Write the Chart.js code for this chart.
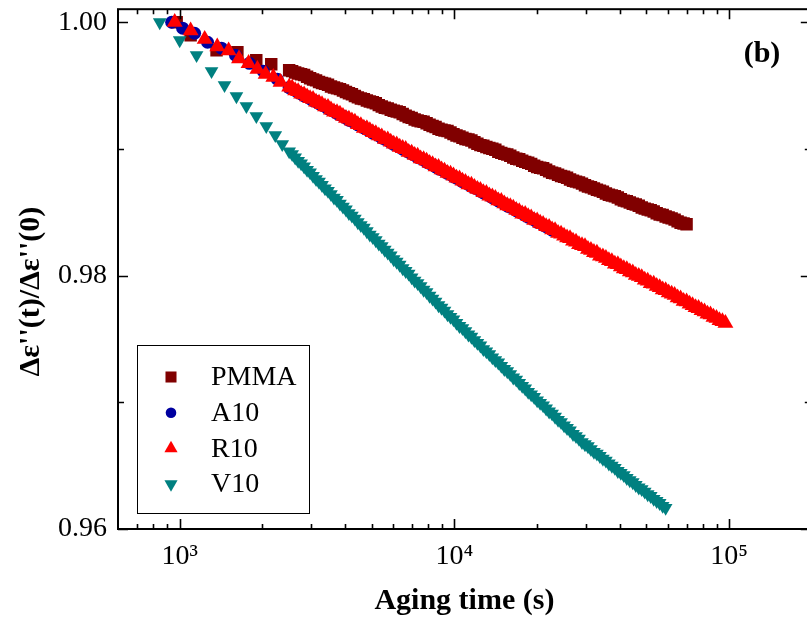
<!DOCTYPE html>
<html><head><meta charset="utf-8">
<script src="https://cdn.jsdelivr.net/npm/chart.js@4.4.1/dist/chart.umd.min.js"></script>
<style>
html,body{margin:0;padding:0;background:#fff;overflow:hidden;}
#wrap{position:relative;width:820px;height:625px;}
</style></head><body>
<div id="wrap"><canvas id="c" width="820" height="625" style="width:820px;height:625px"></canvas></div>
<script>
// ---------- data ----------
const seriesNames = ['PMMA', 'A10', 'R10', 'V10'];

// aging times (s) of the dense part of every curve, shared by the four samples
const gridTime = [2503, 2566, 2632, 2699, 2767, 2837, 2909, 2983, 3058, 3136, 3215, 3296, 3380, 3466,
  3554, 3644, 3737, 3832, 3929, 4029, 4130, 4235, 4342, 4452, 4565, 4681, 4800, 4922, 5046, 5174,
  5305, 5439, 5578, 5719, 5864, 6013, 6165, 6321, 6482, 6646, 6815, 6988, 7165, 7347, 7533, 7724,
  7920, 8121, 8327, 8538, 8754, 8976, 9204, 9437, 9677, 9922, 10174, 10432, 10696, 10967, 11246,
  11531, 11823, 12123, 12430, 12745, 13069, 13400, 13740, 14088, 14446, 14812, 15188, 15573, 15968,
  16373, 16788, 17213, 17650, 18098, 18557, 19027, 19510, 20004, 20512, 21032, 21566, 22113, 22673,
  23248, 23838, 24442, 25062, 25697, 26349, 27017, 27703, 28405, 29126, 29864, 30622, 31398, 32194,
  33010, 33848, 34706, 35587, 36489, 37414, 38362, 39336, 40333, 41356, 42404, 43480, 44582, 45714,
  46873, 48061, 49279, 50530, 51811, 53125, 54471, 55854, 57270, 58723, 60211, 61739, 63304, 64910,
  66555, 68244, 69974, 71749, 73567, 75434, 77346, 79309, 81319, 83382, 85495, 87665, 89887, 92168,
  94504, 96902];

const pmmaEarlyTime = [975, 1096, 1362, 1622, 1900, 2154];
const pmmaValue = [1.0000, 0.99897, 0.99779, 0.99763, 0.99700, 0.99669,
  0.99621, 0.99614, 0.99603, 0.99595, 0.99590, 0.99583, 0.99570, 0.99558, 0.99548, 0.99541,
  0.99529, 0.99520, 0.99515, 0.99507, 0.99493, 0.99485, 0.99478, 0.99472, 0.99462, 0.99449,
  0.99440, 0.99432, 0.99418, 0.99407, 0.99398, 0.99393, 0.99383, 0.99374, 0.99368, 0.99360,
  0.99346, 0.99335, 0.99325, 0.99320, 0.99310, 0.99301, 0.99296, 0.99289, 0.99276, 0.99263,
  0.99252, 0.99245, 0.99233, 0.99224, 0.99218, 0.99214, 0.99203, 0.99191, 0.99181, 0.99173,
  0.99160, 0.99151, 0.99145, 0.99141, 0.99130, 0.99117, 0.99106, 0.99099, 0.99088, 0.99079,
  0.99074, 0.99067, 0.99053, 0.99041, 0.99030, 0.99025, 0.99016, 0.99007, 0.99001, 0.98993,
  0.98978, 0.98969, 0.98961, 0.98956, 0.98946, 0.98932, 0.98922, 0.98918, 0.98907, 0.98898,
  0.98891, 0.98882, 0.98868, 0.98858, 0.98852, 0.98847, 0.98836, 0.98823, 0.98812, 0.98807,
  0.98797, 0.98787, 0.98781, 0.98773, 0.98758, 0.98749, 0.98742, 0.98736, 0.98726, 0.98713,
  0.98703, 0.98698, 0.98687, 0.98678, 0.98671, 0.98662, 0.98648, 0.98638, 0.98632, 0.98627,
  0.98616, 0.98603, 0.98592, 0.98587, 0.98577, 0.98567, 0.98561, 0.98552, 0.98537, 0.98529,
  0.98522, 0.98516, 0.98506, 0.98492, 0.98482, 0.98478, 0.98467, 0.98459, 0.98452, 0.98442,
  0.98428, 0.98418, 0.98412, 0.98405];

const a10EarlyTime = [935, 1025, 1133, 1263, 1420, 1596, 1793, 2015, 2265];
const a10Value = [1.0000, 0.99953, 0.99913, 0.99842, 0.99795, 0.99740, 0.99676, 0.99613, 0.99550,
  0.99484, 0.99474, 0.99463, 0.99447, 0.99435, 0.99419, 0.99411, 0.99397, 0.99382, 0.99374,
  0.99357, 0.99345, 0.99335, 0.99317, 0.99308, 0.99296, 0.99280, 0.99269, 0.99259, 0.99242,
  0.99227, 0.99220, 0.99206, 0.99190, 0.99182, 0.99166, 0.99154, 0.99143, 0.99125, 0.99116,
  0.99105, 0.99088, 0.99077, 0.99067, 0.99051, 0.99036, 0.99028, 0.99014, 0.98998, 0.98991,
  0.98974, 0.98962, 0.98951, 0.98934, 0.98925, 0.98913, 0.98896, 0.98885, 0.98876, 0.98859,
  0.98844, 0.98836, 0.98822, 0.98807, 0.98799, 0.98782, 0.98770, 0.98760, 0.98742, 0.98733,
  0.98721, 0.98704, 0.98694, 0.98684, 0.98667, 0.98652, 0.98645, 0.98631, 0.98615, 0.98607,
  0.98590, 0.98579, 0.98568, 0.98550, 0.98541, 0.98530, 0.98513, 0.98502, 0.98492, 0.98475,
  0.98461, 0.98453, 0.98439, 0.98423, 0.98416, 0.98399, 0.98387, 0.98376, 0.98358];

const r10EarlyTime = [959, 1096, 1233, 1370, 1507, 1644, 1781, 1918, 2055, 2192, 2329];
const r10Value = [1.0000, 0.99933, 0.99866, 0.99807, 0.99775, 0.99712, 0.99676, 0.99629, 0.99590, 0.99566, 0.99527,
  0.99490, 0.99481, 0.99461, 0.99454, 0.99434, 0.99429, 0.99413, 0.99398, 0.99393, 0.99371,
  0.99363, 0.99352, 0.99334, 0.99330, 0.99309, 0.99293, 0.99288, 0.99277, 0.99259, 0.99243,
  0.99237, 0.99222, 0.99214, 0.99193, 0.99185, 0.99165, 0.99161, 0.99146, 0.99130, 0.99123,
  0.99104, 0.99096, 0.99077, 0.99073, 0.99055, 0.99040, 0.99034, 0.99015, 0.99005, 0.98997,
  0.98975, 0.98968, 0.98950, 0.98944, 0.98923, 0.98917, 0.98906, 0.98887, 0.98877, 0.98860,
  0.98856, 0.98837, 0.98827, 0.98808, 0.98803, 0.98788, 0.98771, 0.98766, 0.98747, 0.98738,
  0.98719, 0.98715, 0.98697, 0.98682, 0.98675, 0.98657, 0.98651, 0.98630, 0.98622, 0.98611,
  0.98592, 0.98588, 0.98568, 0.98553, 0.98546, 0.98535, 0.98516, 0.98507, 0.98488, 0.98484,
  0.98467, 0.98457, 0.98438, 0.98434, 0.98415, 0.98405, 0.98388, 0.98382, 0.98363, 0.98356,
  0.98335, 0.98329, 0.98314, 0.98299, 0.98293, 0.98274, 0.98266, 0.98246, 0.98239, 0.98230,
  0.98209, 0.98201, 0.98184, 0.98178, 0.98156, 0.98149, 0.98138, 0.98120, 0.98112, 0.98093,
  0.98089, 0.98070, 0.98056, 0.98049, 0.98031, 0.98024, 0.98004, 0.97996, 0.97985, 0.97966,
  0.97958, 0.97939, 0.97935, 0.97917, 0.97907, 0.97889, 0.97883, 0.97865, 0.97855, 0.97845,
  0.97826, 0.97818, 0.97799, 0.97795, 0.97776, 0.97765, 0.97749, 0.97742, 0.97725, 0.97716,
  0.97697, 0.97692, 0.97673, 0.97664, 0.97647, 0.97639, 0.97624];

const v10EarlyTime = [846, 1000, 1152, 1306, 1456, 1609, 1749, 1901, 2066, 2228, 2362];
const v10Value = [1.0000, 0.99858, 0.99740, 0.99614, 0.99503, 0.99416, 0.99338, 0.99259, 0.99180, 0.99109, 0.99038,
  0.98981, 0.98959, 0.98932, 0.98906, 0.98886, 0.98861, 0.98834, 0.98815, 0.98787, 0.98761,
  0.98741, 0.98715, 0.98688, 0.98669, 0.98643, 0.98616, 0.98597, 0.98568, 0.98545, 0.98522,
  0.98493, 0.98473, 0.98450, 0.98421, 0.98399, 0.98378, 0.98350, 0.98323, 0.98304, 0.98279,
  0.98252, 0.98232, 0.98204, 0.98181, 0.98159, 0.98129, 0.98109, 0.98086, 0.98058, 0.98036,
  0.98015, 0.97986, 0.97960, 0.97941, 0.97916, 0.97888, 0.97869, 0.97841, 0.97818, 0.97795,
  0.97766, 0.97746, 0.97723, 0.97695, 0.97674, 0.97654, 0.97627, 0.97602, 0.97585, 0.97561,
  0.97535, 0.97517, 0.97491, 0.97469, 0.97448, 0.97420, 0.97402, 0.97380, 0.97354, 0.97333,
  0.97314, 0.97287, 0.97263, 0.97245, 0.97222, 0.97196, 0.97179, 0.97152, 0.97130, 0.97109,
  0.97082, 0.97063, 0.97042, 0.97015, 0.96995, 0.96976, 0.96951, 0.96927, 0.96910, 0.96886,
  0.96861, 0.96844, 0.96818, 0.96797, 0.96777, 0.96750, 0.96733, 0.96712, 0.96686, 0.96669,
  0.96653, 0.96630, 0.96609, 0.96595, 0.96576, 0.96554, 0.96540, 0.96517, 0.96499, 0.96482,
  0.96458, 0.96443, 0.96425, 0.96402, 0.96385, 0.96369, 0.96347, 0.96327, 0.96314, 0.96295,
  0.96274, 0.96260, 0.96238, 0.96221, 0.96205, 0.96182, 0.96166];

const xMajorTicks = [1000, 10000, 100000];
const xTickLabels = ['10\u00B3', '10\u2074', '10\u2075'];
const xMinorTicks = [700, 800, 900, 2000, 3000, 4000, 5000, 6000, 7000, 8000, 9000,
  20000, 30000, 40000, 50000, 60000, 70000, 80000, 90000];
const yMajorTicks = [0.96, 0.98, 1.00];
const yMinorTicks = [0.97, 0.99];
const xTitle = 'Aging time (s)';
const yTitle = 'Δε\'\'(t)/Δε\'\'(0)';
const panelLabel = '(b)';

// ---------- chart ----------
const SERIF = "'Liberation Serif','Times New Roman',serif";
// full time axis of a sample = its sparse early readings followed by the first n shared dense times
const series = (early, values) => {
  const t = early.concat(gridTime.slice(0, values.length - early.length));
  return t.map((x, i) => ({x: x, y: values[i]}));
};

const framePlugin = {
  id: 'frame',
  afterDraw(chart) {
    const {ctx, chartArea: a, scales: {x, y}} = chart;
    ctx.save();
    ctx.strokeStyle = '#000';
    ctx.lineWidth = 1.6;
    ctx.beginPath();
    const tx = (v, len) => {
      const p = Math.round(x.getPixelForValue(v)) + 0.5;
      ctx.moveTo(p, a.bottom); ctx.lineTo(p, a.bottom - len);
      ctx.moveTo(p, a.top); ctx.lineTo(p, a.top + len);
    };
    const ty = (v, len) => {
      const p = Math.round(y.getPixelForValue(v)) + 0.5;
      ctx.moveTo(a.left, p); ctx.lineTo(a.left + len, p);
      ctx.moveTo(a.right, p); ctx.lineTo(a.right - len, p);
    };
    xMajorTicks.forEach(v => tx(v, 10));
    xMinorTicks.forEach(v => tx(v, 5));
    yMajorTicks.forEach(v => ty(v, 10));
    yMinorTicks.forEach(v => ty(v, 6));
    ctx.stroke();
    ctx.lineWidth = 2;
    ctx.strokeRect(a.left, a.top, a.right - a.left, a.bottom - a.top);
    ctx.fillStyle = '#000';
    ctx.font = 'bold 30px ' + SERIF;
    ctx.textAlign = 'center';
    ctx.textBaseline = 'middle';
    const o = chart.options.plugins.frame;
    ctx.fillText(panelLabel, o.labelX, o.labelY);
    ctx.restore();
  }
};

const boxLegendPlugin = {
  id: 'boxLegend',
  afterDraw(chart) {
    const o = chart.options.plugins.boxLegend;
    const ctx = chart.ctx;
    ctx.save();
    ctx.fillStyle = '#fff';
    ctx.fillRect(o.left, o.top, o.width, o.height);
    ctx.strokeStyle = '#000';
    ctx.lineWidth = 1;
    ctx.strokeRect(o.left + 0.5, o.top + 0.5, o.width, o.height);
    chart.data.datasets.forEach((ds, i) => {
      const cy = o.firstY + i * o.rowGap;
      ctx.fillStyle = ds.backgroundColor;
      ctx.strokeStyle = ds.backgroundColor;
      const opts = {pointStyle: ds.pointStyle, rotation: ds.pointRotation || 0,
                    radius: o.markerRadius[i], borderWidth: 0};
      Chart.helpers.drawPoint(ctx, opts, o.markerX, cy);
      ctx.fillStyle = '#000';
      ctx.font = o.fontSize + 'px ' + SERIF;
      ctx.textAlign = 'left';
      ctx.textBaseline = 'middle';
      ctx.fillText(ds.label, o.textX, cy + 1);
    });
    ctx.restore();
  }
};

new Chart(document.getElementById('c'), {
  type: 'scatter',
  data: {
    datasets: [
      {label: seriesNames[0], data: series(pmmaEarlyTime, pmmaValue), pointStyle: 'rect',
       pointRadius: 8.8, backgroundColor: '#800000', borderWidth: 0, order: 4},
      {label: seriesNames[1], data: series(a10EarlyTime, a10Value), pointStyle: 'circle',
       pointRadius: 6.5, backgroundColor: '#0000a0', borderWidth: 0, order: 3},
      {label: seriesNames[2], data: series(r10EarlyTime, r10Value), pointStyle: 'triangle',
       pointRadius: 9.2, backgroundColor: '#ff0000', borderWidth: 0, order: 2},
      {label: seriesNames[3], data: series(v10EarlyTime, v10Value), pointStyle: 'triangle', pointRotation: 180,
       pointRadius: 7.9, backgroundColor: '#008080', borderWidth: 0, order: 1}
    ]
  },
  options: {
    responsive: false,
    animation: false,
    devicePixelRatio: 1,
    events: [],
    layout: {padding: {left: 0, top: 9, right: 6, bottom: 0}},
    elements: {point: {borderWidth: 0, hoverRadius: 0}},
    plugins: {
      legend: {display: false},
      tooltip: {enabled: false},
      frame: {labelX: 762, labelY: 54},
      boxLegend: {left: 137, top: 345, width: 172, height: 168, markerX: 171, textX: 211,
                  firstY: 377, rowGap: 35.7, fontSize: 28, markerRadius: [7.8, 5.3, 7.6, 7.6]}
    },
    scales: {
      x: {
        type: 'logarithmic', position: 'bottom',
        min: 596.3, max: 198200,
        grid: {display: false, drawTicks: false},
        border: {display: false},
        afterBuildTicks: s => { s.ticks = xMajorTicks.map(v => ({value: v})); },
        afterFit: s => { s.height = 96; s.paddingLeft = 0; s.paddingRight = 0; },
        ticks: {
          autoSkip: false, maxRotation: 0, minRotation: 0, padding: 11, color: '#000',
          font: {family: SERIF, size: 28},
          callback: v => { const i = xMajorTicks.indexOf(v); return i >= 0 ? xTickLabels[i] : ''; }
        },
        title: {display: true, text: xTitle, color: '#000', padding: {top: 0, bottom: 6},
                font: {family: SERIF, size: 30, weight: 'bold'}}
      },
      y: {
        type: 'linear', position: 'left',
        min: 0.96, max: 1.00103,
        grid: {display: false, drawTicks: false},
        border: {display: false},
        afterBuildTicks: s => { s.ticks = yMajorTicks.map(v => ({value: v})); },
        afterFit: s => { s.width = 118; s.paddingTop = 0; s.paddingBottom = 0; },
        ticks: {
          autoSkip: false, padding: 11, color: '#000',
          font: {family: SERIF, size: 28},
          callback: v => v.toFixed(2)
        },
        title: {display: true, text: yTitle + '      ', color: '#000', padding: {top: 13, bottom: 0},
                font: {family: SERIF, size: 30, weight: 'bold'}}
      }
    }
  },
  plugins: [framePlugin, boxLegendPlugin]
});
</script>
</body></html>
